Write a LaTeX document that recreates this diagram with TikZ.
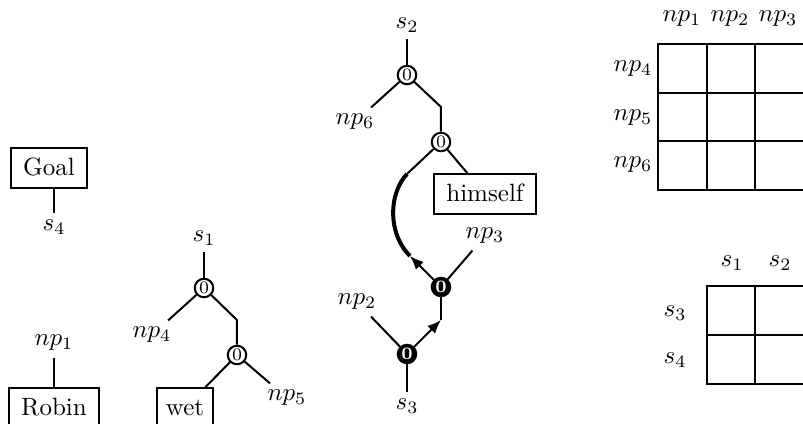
\documentclass[tikz,border=0pt]{standalone}
\usepackage{amsmath,amssymb}
\usepackage{tikz}
\usetikzlibrary{arrows.meta}
\tikzset{
  wbox/.style={draw,line width=0.8pt,inner xsep=4.8pt,inner ysep=2.8pt,
    text height=8pt,text depth=2.2pt},
  zero/.style={draw,circle,line width=0.8pt,fill=white,minimum size=7.4pt,inner sep=0pt,font=\scriptsize},
  bzero/.style={zero,fill=black,text=white,font=\scriptsize\bfseries},
  lab/.style={inner sep=2.5pt},
  tedge/.style={line width=0.8pt},
  aedge/.style={-{Latex[length=5.5pt,width=4.4pt]},line width=0.8pt},
  bigedge/.style={line width=1.6pt},
  gridline/.style={line width=0.8pt}
}

\begin{document}
\begin{tikzpicture}[x=0.4pt,y=-0.4pt]
  \useasboundingbox (0,0) rectangle (803,424);
  \clip (0,0) rectangle (803,424);
  % goal, robin
  \node[wbox] (goal) at (49,168) {Goal};
  \node[lab] (s4) at (54,227) {$s_4$};
  \draw[tedge] (s4) -- (s4 |- goal.south);
  \node[lab] (np1) at (54,343) {$np_1$};
  \node[wbox] (robin) at (54,408) {Robin};
  \draw[tedge] (np1) -- (robin);
  % wet
  \node[lab] (s1) at (204,238) {$s_1$};
  \node[zero] (c3) at (204,288) {0};
  \node[lab] (np4) at (152,335) {$np_4$};
  \coordinate (k3) at (237,320);
  \node[zero] (c4) at (237,355) {0};
  \node[wbox,inner xsep=3.4pt] (wet) at (185,408) {wet};
  \node[lab] (np5) at (287,398) {$np_5$};
  \draw[tedge] (s1) -- (c3); \draw[tedge] (c3) -- (np4);
  \draw[tedge] (c3) -- (k3) -- (c4); \draw[tedge] (c4) -- (wet); \draw[tedge] (c4) -- (np5);
  % himself
  \node[lab] (s2) at (407,25) {$s_2$};
  \node[zero] (c1) at (407,75) {0};
  \node[lab] (np6) at (355,122) {$np_6$};
  \coordinate (k1) at (441,107);
  \node[zero] (c2) at (441,142) {0};
  \node[wbox] (him) at (485,194) {himself};
  \coordinate (cv1) at (407,174);
  \coordinate (cv2) at (410,256);
  \node[bzero] (b1) at (441,287) {0};
  \node[lab] (np3) at (485,236) {$np_3$};
  \coordinate (k2) at (441,320);
  \node[bzero] (b2) at (407,354) {0};
  \node[lab] (np2) at (357,302) {$np_2$};
  \node[lab] (s3) at (407,406) {$s_3$};
  \draw[tedge] (s2) -- (c1); \draw[tedge] (c1) -- (np6); \draw[tedge] (c1) -- (k1) -- (c2);
  \draw[tedge] (c2) -- (him); \draw[tedge] (c2) -- (cv1);
  \draw[bigedge] (cv1) .. controls (389,193) and (387,233) .. (cv2);
  \draw[aedge] (b1) -- (cv2); \draw[tedge] (b1) -- (np3);
  \draw[tedge] (k2) -- (b1); \draw[aedge] (b2) -- (k2);
  \draw[tedge] (b2) -- (np2); \draw[tedge] (s3) -- (b2);
  % np table
  \node (t1) at (682,19) {$np_1$};
  \node (t2) at (730,19) {$np_2$};
  \node (t3) at (778,19) {$np_3$};
  \node (t4) at (633,69) {$np_4$};
  \node (t5) at (633,118) {$np_5$};
  \node (t6) at (633,165) {$np_6$};
  \draw[gridline] (658,44) rectangle (804,190) (707,44) -- (707,190) (755,44) -- (755,190)
    (658,93) -- (804,93) (658,141) -- (804,141);
  % s table
  \node (u1) at (732,263) {$s_1$};
  \node (u2) at (780,263) {$s_2$};
  \node (u3) at (675,313) {$s_3$};
  \node (u4) at (675,360) {$s_4$};
  \draw[gridline] (707,286) rectangle (804,384) (755,286) -- (755,384) (707,335) -- (804,335);
\end{tikzpicture}
\end{document}
